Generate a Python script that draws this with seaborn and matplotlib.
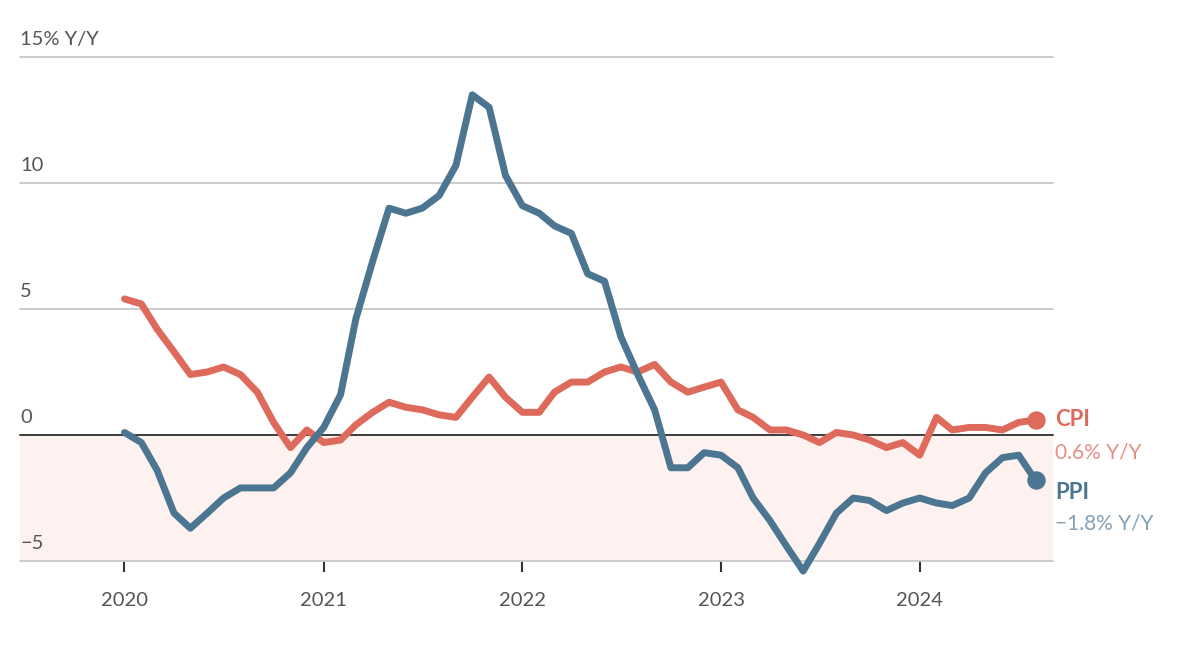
import pandas as pd
import matplotlib.pyplot as plt
import seaborn as sns

# --- Dados: variação anual (%) mensal, jan/2020 a ago/2024 ---
months = pd.date_range("2020-01-01", periods=56, freq="MS")

cpi = [5.4, 5.2, 4.2, 3.3, 2.4, 2.5, 2.7, 2.4, 1.7, 0.5, -0.5, 0.2,
       -0.3, -0.2, 0.4, 0.9, 1.3, 1.1, 1.0, 0.8, 0.7, 1.5, 2.3, 1.5,
       0.9, 0.9, 1.7, 2.1, 2.1, 2.5, 2.7, 2.5, 2.8, 2.1, 1.7, 1.9,
       2.1, 1.0, 0.7, 0.2, 0.2, 0.0, -0.3, 0.1, 0.0, -0.2, -0.5, -0.3,
       -0.8, 0.7, 0.2, 0.3, 0.3, 0.2, 0.5, 0.6]

ppi = [0.1, -0.3, -1.4, -3.1, -3.7, -3.1, -2.5, -2.1, -2.1, -2.1, -1.5, -0.5,
       0.3, 1.6, 4.6, 6.9, 9.0, 8.8, 9.0, 9.5, 10.7, 13.5, 13.0, 10.3,
       9.1, 8.8, 8.3, 8.0, 6.4, 6.1, 3.9, 2.4, 1.0, -1.3, -1.3, -0.7,
       -0.8, -1.3, -2.5, -3.4, -4.4, -5.4, -4.3, -3.1, -2.5, -2.6, -3.0, -2.7,
       -2.5, -2.7, -2.8, -2.5, -1.5, -0.9, -0.8, -1.8]

y_ticks = [15, 10, 5, 0, -5]
y_tick_labels = ["15% Y/Y", "10", "5", "0", "\u22125"]
year_ticks = ["2020", "2021", "2022", "2023", "2024"]

series_names = ["CPI", "PPI"]
palette = {"CPI": "#de6a5c", "PPI": "#4b7590"}
sub_colors = {"CPI": "#e58f85", "PPI": "#86a1b5"}
end_labels = {"CPI": "0.6% Y/Y", "PPI": "\u22121.8% Y/Y"}

df = pd.DataFrame({
    "month": list(months) * 2,
    "value": cpi + ppi,
    "series": ["CPI"] * len(cpi) + ["PPI"] * len(ppi),
})

sns.set_style("white")
plt.rcParams["font.family"] = ["Lato", "DejaVu Sans"]

fig = plt.figure(figsize=(12, 6.52), dpi=100)
ax = fig.add_axes([20 / 1200, 91 / 652, 1033 / 1200, 504 / 652])

# faixa negativa e linhas de grade
x_left = months[0] - pd.DateOffset(days=192)
x_right = months[-1] + pd.DateOffset(days=32)
ax.axhspan(-5, 0, color="#fdf2f0", zorder=0)
for v in y_ticks:
    ax.axhline(v, color="#c8c8c8", lw=1.3, zorder=1)
ax.axhline(0, color="#333333", lw=1.3, zorder=2)

sns.lineplot(data=df, x="month", y="value", hue="series", hue_order=series_names,
             palette=palette, linewidth=5, legend=False, ax=ax, zorder=3)
for ln in ax.get_lines():
    ln.set_clip_on(False)

# pontos finais e rótulos
for name, vals in zip(series_names, [cpi, ppi]):
    ax.scatter([months[-1]], [vals[-1]], s=150, color=palette[name], zorder=4,
               clip_on=False)

yt = ax.get_yaxis_transform()
ax.text(1.002, 0.6, "CPI", transform=yt, ha="left", va="center",
        fontsize=16, fontweight="bold", color=palette["CPI"])
ax.text(1.002, -0.7, end_labels["CPI"], transform=yt, ha="left",
        va="center", fontsize=15, color=sub_colors["CPI"])
ax.text(1.002, -2.3, "PPI", transform=yt, ha="left", va="center",
        fontsize=16, fontweight="bold", color=palette["PPI"])
ax.text(1.002, -3.5, end_labels["PPI"], transform=yt, ha="left",
        va="center", fontsize=15, color=sub_colors["PPI"])

# rótulos do eixo y acima das linhas de grade
for v, lab in zip(y_ticks, y_tick_labels):
    ax.text(0.0, v + 0.35, lab, transform=yt, ha="left",
            va="bottom", fontsize=14.5, color="#555555")

ax.set_xlim(x_left, x_right)
ax.set_ylim(-5, 15)
ax.set_yticks([])
ax.set_xticks([pd.Timestamp(f"{y}-01-01") for y in year_ticks])
ax.set_xticklabels(year_ticks)
ax.tick_params(axis="x", length=8, width=1.5, color="#333333", pad=14,
               labelsize=14.5, labelcolor="#555555", direction="out")
ax.xaxis.set_ticks_position("bottom")
ax.set_xlabel("")
ax.set_ylabel("")
for s in ax.spines.values():
    s.set_visible(False)

fig.savefig("out.png", dpi=100)
